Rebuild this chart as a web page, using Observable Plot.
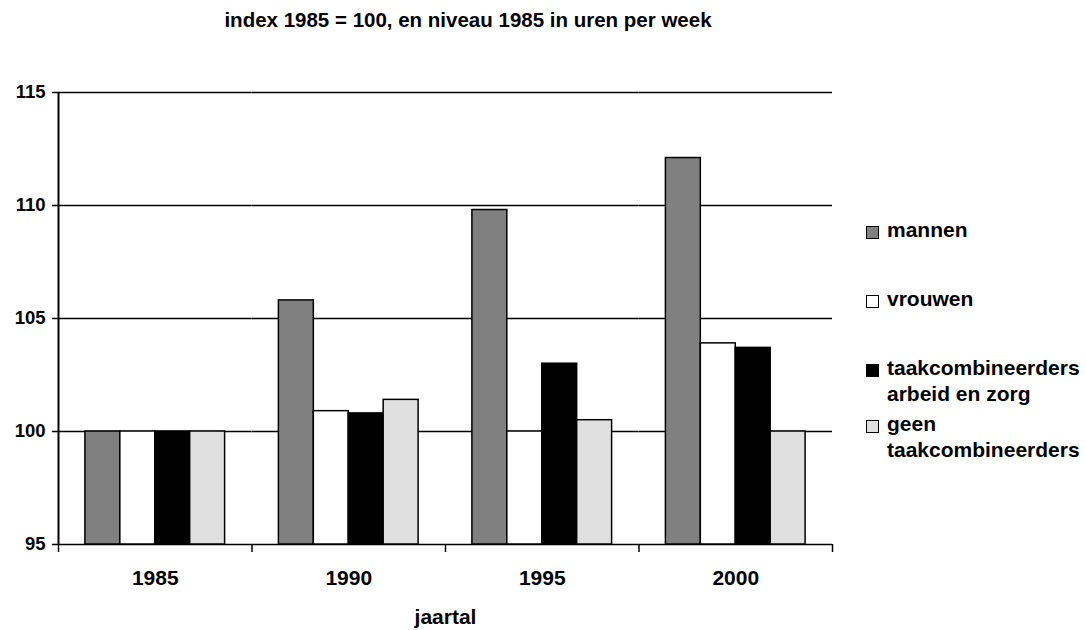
<!DOCTYPE html>
<html><head><meta charset="utf-8">
<script src="https://cdn.jsdelivr.net/npm/d3@7"></script>
<script src="https://cdn.jsdelivr.net/npm/@observablehq/plot@0.6"></script>
<style>
body{margin:0;background:#fff;font-family:"Liberation Sans",Arial,sans-serif;color:#000;}
#wrap{position:relative;width:1086px;height:630px;overflow:hidden;}
#title{position:absolute;left:0;top:0;width:936px;height:44px;text-align:center;font-weight:bold;font-size:20.5px;line-height:20px;padding-top:10px;box-sizing:border-box;}
#chart{position:absolute;left:0;top:44px;}
.leg{position:absolute;left:866px;font-weight:bold;font-size:21px;line-height:26px;white-space:nowrap;}
.sw{position:absolute;left:0;top:9px;width:11px;height:11px;border:1px solid #000;}
.lt{margin-left:21px;}
</style></head><body>
<div id="wrap"><div id="title">index 1985 = 100, en niveau 1985 in uren per week</div><div id="chart"></div></div>
<script>
// ---- data ----
const years = ["1985", "1990", "1995", "2000"];
const series = ["mannen", "vrouwen", "taakcombineerders arbeid en zorg", "geen taakcombineerders"];
const legendLines = [["mannen"], ["vrouwen"], ["taakcombineerders", "arbeid en zorg"], ["geen", "taakcombineerders"]];
const mannen = [100, 105.8, 109.8, 112.1];
const vrouwen = [100, 100.9, 100.0, 103.9];
const taakcombineerders = [100, 100.8, 103.0, 103.7];
const geenTaakcombineerders = [100, 101.4, 100.5, 100.0];
const yTicks = [95, 100, 105, 110, 115];
const xLabel = "jaartal";

// ---- styles ----
const colors = ["#808080", "#ffffff", "#000000", "#e0e0e0"];
const legendTops = [216.7, 285.7, 354.7, 410.7];

const values = [mannen, vrouwen, taakcombineerders, geenTaakcombineerders];
const rows = years.flatMap((yr, i) => series.map((s, j) => ({year: yr, series: s, value: values[j][i]})));
const yBase = yTicks[0];
const yTop = yTicks[yTicks.length - 1];

const W = 1086, H = 586, mt = 48, mb = 86, ml = 58, mr = 254;
const po = 0.77;
const facetW = (W - ml - mr) / years.length;
const step = facetW / (series.length + 2 * po);
const edge = (po + 0.5) * step;

const chart = Plot.plot({
  width: W, height: H, marginTop: mt, marginBottom: mb, marginLeft: ml, marginRight: mr,
  style: {fontFamily: "Liberation Sans, Arial, sans-serif", fontWeight: "bold", color: "#000", background: "#fff", overflow: "visible"},
  fx: {domain: years, padding: 0, round: false},
  x: {domain: series, paddingInner: 0, paddingOuter: po, round: false, axis: null},
  y: {domain: [yBase, yTop]},
  color: {domain: series, range: colors},
  marks: [
    Plot.ruleY(yTicks, {stroke: "#000", strokeWidth: 1.5}),
    Plot.barY(rows, {fx: "year", x: "series", y1: yBase, y2: "value", fill: "series", stroke: "#000", strokeWidth: 1.5}),
    Plot.ruleX(years, {fx: d => d, x: () => series[0], dx: -edge, y1: yBase, y2: yBase, insetBottom: -8, stroke: "#000", strokeWidth: 1.5}),
    Plot.ruleX([years[years.length - 1]], {fx: d => d, x: () => series[series.length - 1], dx: edge, y1: yBase, y2: yBase, insetBottom: -8, stroke: "#000", strokeWidth: 1.5}),
    Plot.ruleX([years[0]], {fx: d => d, x: () => series[0], dx: -edge, y1: yBase, y2: yTop, stroke: "#000", strokeWidth: 2}),
    Plot.axisY({ticks: yTicks, tickSize: 6, tickPadding: 7, fontSize: 18.5, label: null, stroke: "#000", strokeWidth: 1.5}),
    Plot.axisFx({anchor: "bottom", tickSize: 0, tickPadding: 26, fontSize: 21, label: xLabel, labelAnchor: "center", labelOffset: 79})
  ]
});
document.getElementById("chart").appendChild(chart);

const wrap = document.getElementById("wrap");
legendLines.forEach((lines, i) => {
  const item = document.createElement("div");
  item.className = "leg";
  item.style.top = legendTops[i] + "px";
  const sw = document.createElement("div");
  sw.className = "sw";
  sw.style.background = colors[i];
  item.appendChild(sw);
  lines.forEach(t => {
    const d = document.createElement("div");
    d.className = "lt";
    d.textContent = t;
    item.appendChild(d);
  });
  wrap.appendChild(item);
});
</script>
</body></html>
